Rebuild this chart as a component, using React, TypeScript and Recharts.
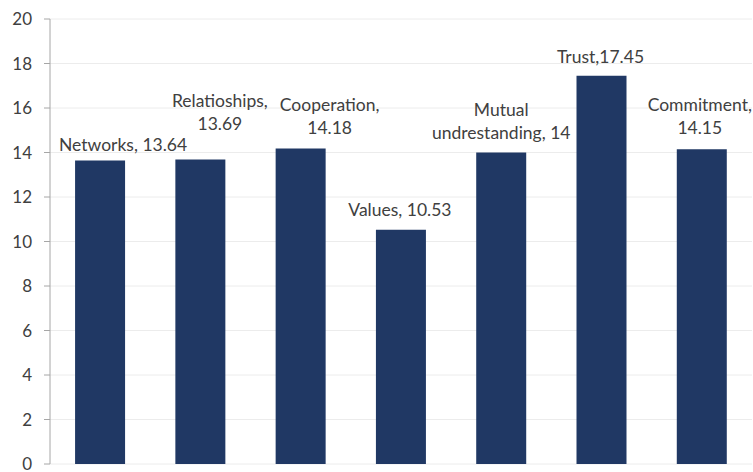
import React from 'react';
import { BarChart, Bar, XAxis, YAxis, CartesianGrid, LabelList } from 'recharts';

const categories = ['Networks', 'Relatioships', 'Cooperation', 'Values', 'Mutual undrestanding', 'Trust', 'Commitment'];
const values = [13.64, 13.69, 14.18, 10.53, 14, 17.45, 14.15];
const labelLines = [
  ['Networks, 13.64'],
  ['Relatioships,', '13.69'],
  ['Cooperation,', '14.18'],
  ['Values, 10.53'],
  ['Mutual', 'undrestanding, 14'],
  ['Trust,17.45'],
  ['Commitment,', '14.15'],
];
const yTicks = [0, 2, 4, 6, 8, 10, 12, 14, 16, 18, 20];

// label layout (offset of label block centre from bar top-centre)
const labelDx = [23, 19.5, 29, -1, 0, -1, -2];
const labelDy = [-15.5, -36, -20.5, -19.7, -19.5, -18.7, -21];
const LINE_H = 23;

const data = categories.map((c, i) => ({ name: c, value: values[i], idx: i }));

const FONT = 'Lato, "Open Sans", sans-serif';
const TEXT = '#404040';

const renderLabel = (props: any) => {
  const { x, y, width, index } = props;
  const lines = labelLines[index];
  const cx = x + width / 2 + labelDx[index];
  const last = y + labelDy[index];
  const n = lines.length;
  return (
    <g>
      {lines.map((ln, i) => (
        <text
          key={i}
          x={cx}
          y={last - (n - 1 - i) * LINE_H}
          dy="0.35em"
          textAnchor="middle"
          fill={TEXT}
          fontSize={17.5}
          fontFamily={FONT}
        >
          {ln}
        </text>
      ))}
    </g>
  );
};

export default function App() {
  return (
    <div style={{ position: 'absolute', left: 0, top: 0, background: '#fff' }}>
      <BarChart
        width={753}
        height={472}
        data={data}
        margin={{ top: 19, right: 1, bottom: 8, left: 0 }}
        barCategoryGap="25%"
      >
        <CartesianGrid vertical={false} stroke="#ececec" strokeWidth={1} />
        <XAxis dataKey="name" hide />
        <YAxis
          width={50}
          domain={[0, 20]}
          ticks={yTicks}
          interval={0}
          axisLine={{ stroke: '#a6a6a6' }}
          tickLine={{ stroke: '#a6a6a6' }}
          tickSize={6}
          tickMargin={12}
          tick={{ fill: TEXT, fontSize: 17, fontFamily: FONT }}
        />
        <Bar dataKey="value" fill="#203864" isAnimationActive={false}>
          <LabelList dataKey="value" content={renderLabel} />
        </Bar>
      </BarChart>
    </div>
  );
}
